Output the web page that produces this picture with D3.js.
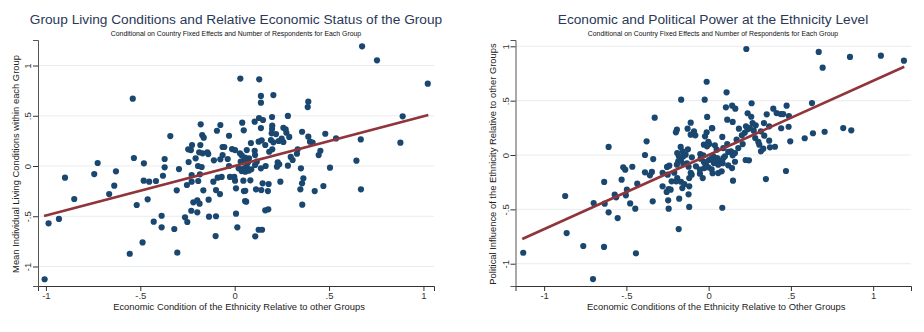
<!DOCTYPE html>
<html>
<head>
<meta charset="utf-8">
<title>Ethnicity scatter plots</title>
<style>
  body { margin: 0; background: #fff; }
  svg { display: block; font-family: "Liberation Sans", Arial, sans-serif; }
</style>
<script src="https://d3js.org/d3.v7.min.js"></script>
</head>
<body>
<svg id="chart" width="924" height="332"></svg>
<script>
// left panel: living conditions vs relative economic condition
var leftPoints = [
  [0.03,0.87],[-0.54,0.67],[-0.18,0.415],[-0.076,0.408],[0.04,0.431],[-0.172,0.308],[-0.164,0.282],[-0.341,0.298],
  [-0.094,0.351],[-0.03,0.301],[0.048,0.355],[-0.226,0.209],[-0.232,0.159],[-0.246,0.166],[-0.182,0.209],[-0.188,0.136],
  [-0.17,0.126],[-0.145,0.136],[-0.14,0.119],[-0.064,0.189],[-0.055,0.189],[-0.014,0.169],[0.002,0.159],[0.028,0.126],
  [0.037,0.106],[-0.064,0.109],[-0.076,0.067],[-0.037,0.07],[-0.207,0.077],[-0.244,0.04],[-0.11,0.057],[-0.194,0.0],
  [-0.175,-0.01],[-0.03,0.0],[0.021,-0.023],[0.037,-0.05],[0.051,0.06],[-0.295,-0.03],[-0.371,0.07],[-0.371,-0.013],
  [-0.481,0.027],[-0.534,0.08],[-0.726,0.03],[-0.744,-0.08],[-0.629,-0.053],[-0.899,-0.116],[-0.38,-0.097],[-0.228,-0.09],
  [-0.184,-0.083],[-0.228,-0.156],[-0.193,-0.149],[-0.113,-0.156],[-0.09,-0.116],[-0.069,-0.109],[-0.025,-0.109],[-0.002,-0.109],
  [0.002,-0.146],[-0.253,-0.189],[-0.482,-0.146],[-0.453,-0.156],[-0.417,-0.149],[-0.638,-0.196],[-0.665,-0.279],[-0.85,-0.328],
  [-0.307,-0.242],[-0.166,-0.242],[-0.078,-0.279],[-0.099,-0.239],[0.007,-0.222],[0.049,-0.249],[-0.461,-0.331],[-0.519,-0.388],
  [-0.219,-0.361],[-0.198,-0.341],[-0.186,-0.375],[-0.138,-0.335],[0.055,-0.348],[-0.23,-0.445],[-0.198,-0.461],[-0.387,-0.495],
  [-0.263,-0.511],[-0.251,-0.557],[-0.429,-0.554],[-0.387,-0.61],[-0.32,-0.627],[-0.136,-0.504],[-0.099,-0.5],[0.007,-0.474],
  [0.014,-0.61],[-0.101,-0.697],[-0.488,-0.76],[-0.556,-0.873],[-0.304,-0.862],[-0.986,-0.57],[-0.931,-0.527],[-1.007,-1.127],
  [0.675,1.191],[0.754,1.052],[1.023,0.819],[0.89,0.494],[0.878,0.232],[0.668,0.265],[0.645,0.053],[0.669,-0.232],
  [0.537,0.275],[0.48,0.321],[0.505,-0.017],[0.47,-0.199],[0.424,-0.249],[0.358,-0.385],[0.351,-0.023],[0.364,-0.122],
  [0.357,-0.172],[0.348,-0.232],[0.445,0.109],[0.454,0.152],[0.39,0.64],[0.387,0.587],[0.357,0.341],[0.39,0.292],
  [0.399,0.242],[0.413,0.232],[0.334,0.166],[0.33,0.122],[0.297,0.09],[0.307,0.06],[0.282,0.003],[0.242,-0.156],
  [0.282,0.498],[0.205,0.706],[0.139,0.697],[0.139,0.63],[0.13,0.863],[0.198,0.488],[0.129,0.478],[0.15,0.458],
  [0.106,0.441],[0.139,0.378],[0.199,0.401],[0.198,0.368],[0.258,0.381],[0.27,0.365],[0.196,0.325],[0.219,0.318],
  [0.274,0.331],[0.289,0.289],[0.086,0.229],[0.127,0.242],[0.143,0.256],[0.192,0.259],[0.205,0.236],[0.233,0.249],
  [0.258,0.239],[0.249,0.272],[0.064,0.159],[0.106,0.152],[0.108,0.109],[0.199,0.166],[0.183,0.142],[0.076,0.077],
  [0.055,0.083],[0.064,-0.007],[0.049,-0.023],[0.108,0.01],[0.139,-0.023],[0.164,0.0],[0.056,-0.057],[0.074,-0.047],
  [0.046,-0.146],[0.083,-0.142],[0.056,-0.246],[0.113,-0.232],[0.148,-0.172],[0.141,-0.239],[0.176,-0.249],[0.18,-0.179],
  [0.061,-0.355],[0.162,-0.441],[0.178,-0.431],[0.127,-0.634],[0.145,-0.634],[0.109,-0.7],[0.228,0.037],[0.236,0.017],
  [0.224,-0.007],[0.162,0.209],[0.071,0.037],[0.088,-0.033],[0.032,0.043],[0.117,0.043]
];
var leftFit = [[-1.01, -0.497], [1.026, 0.507]];

// right panel: political influence vs relative economic condition
var rightPoints = [
  [-0.012,0.674],[-0.167,0.509],[-0.024,0.509],[-0.328,0.343],[-0.009,0.35],[-0.109,0.297],[0.022,0.246],[-0.193,0.233],
  [-0.199,0.209],[-0.128,0.242],[-0.089,0.218],[-0.109,0.187],[-0.081,0.181],[-0.012,0.209],[-0.022,0.172],[-0.002,0.12],
  [-0.029,0.095],[-0.01,0.08],[0.004,0.101],[-0.377,0.126],[-0.608,0.074],[-0.17,0.074],[-0.158,0.034],[-0.126,0.052],
  [-0.191,0.018],[-0.181,-0.012],[-0.154,-0.012],[-0.14,0.003],[-0.168,-0.043],[-0.185,-0.058],[-0.193,-0.089],[-0.154,-0.083],
  [-0.102,-0.021],[-0.132,-0.076],[-0.122,-0.108],[-0.051,0.009],[-0.033,-0.003],[-0.049,-0.034],[-0.029,-0.064],[-0.016,-0.089],
  [0.002,-0.046],[0.018,-0.034],[-0.027,-0.12],[-0.002,-0.113],[0.018,-0.132],[0.032,-0.074],[-0.387,0.0],[-0.337,-0.037],
  [-0.519,-0.113],[-0.507,-0.135],[-0.464,-0.108],[-0.387,-0.159],[-0.345,-0.156],[-0.357,-0.187],[-0.529,-0.227],[-0.434,-0.264],
  [-0.28,-0.163],[-0.253,-0.11],[-0.239,-0.098],[-0.249,-0.181],[-0.225,-0.242],[-0.209,-0.163],[-0.197,-0.242],[-0.191,-0.212],
  [-0.28,-0.288],[-0.243,-0.313],[-0.255,-0.34],[-0.231,-0.319],[-0.168,-0.246],[-0.148,-0.267],[-0.16,-0.304],[-0.118,-0.288],
  [-0.118,-0.212],[-0.103,-0.181],[-0.109,-0.163],[-0.077,-0.104],[-0.053,-0.172],[-0.036,-0.212],[-0.053,-0.135],[-0.122,-0.362],
  [-0.497,-0.319],[-0.503,-0.371],[-0.571,-0.365],[-0.562,-0.389],[-0.34,-0.426],[-0.246,-0.417],[-0.179,-0.402],[-0.477,-0.445],
  [-0.446,-0.494],[-0.243,-0.494],[-0.118,-0.478],[-0.635,-0.248],[-0.699,-0.442],[-0.632,-0.448],[-0.608,-0.527],[-0.553,-0.58],
  [-0.872,-0.377],[-0.863,-0.718],[-0.762,-0.837],[-0.636,-0.846],[-1.127,-0.899],[-0.703,-1.141],[-0.442,-0.905],[-0.182,-0.681],
  [0.229,0.975],[0.669,0.948],[0.859,0.902],[1.047,0.914],[1.187,0.868],[0.693,0.803],[0.109,0.577],[0.261,0.476],
  [0.628,0.478],[0.474,0.454],[0.105,0.439],[0.143,0.454],[0.162,0.426],[0.393,0.426],[0.413,0.386],[0.438,0.377],
  [0.453,0.377],[0.488,0.359],[0.237,0.384],[0.259,0.352],[0.353,0.374],[0.113,0.325],[0.146,0.304],[0.02,0.248],
  [0.184,0.242],[0.227,0.264],[0.237,0.236],[0.251,0.248],[0.267,0.294],[0.286,0.273],[0.274,0.224],[0.219,0.205],
  [0.202,0.181],[0.336,0.294],[0.368,0.264],[0.318,0.218],[0.338,0.178],[0.441,0.246],[0.486,0.26],[0.496,0.126],
  [0.584,0.154],[0.634,0.2],[0.705,0.214],[0.818,0.248],[0.867,0.227],[0.083,0.166],[0.283,0.156],[0.302,0.12],
  [0.308,0.095],[0.368,0.132],[0.373,0.071],[0.403,0.076],[0.318,0.034],[0.332,0.058],[0.17,0.141],[0.207,0.101],
  [0.18,0.064],[0.16,0.018],[0.136,0.034],[0.146,-0.003],[0.038,0.089],[0.049,0.049],[0.089,0.064],[0.113,0.101],
  [0.119,0.028],[0.028,-0.012],[0.052,-0.028],[0.069,-0.058],[0.089,-0.028],[0.085,-0.076],[0.099,-0.012],[0.058,-0.089],
  [0.032,-0.064],[0.119,-0.095],[0.16,-0.062],[0.142,-0.12],[0.225,-0.046],[0.245,-0.049],[0.024,-0.168],[0.058,-0.166],
  [0.079,-0.15],[0.148,-0.236],[0.348,-0.221],[0.47,-0.147],[0.083,-0.485]
];
var rightFit = [[-1.133, -0.773], [1.189, 0.812]];

var tickValues = [-1, -0.5, 0, 0.5, 1];

var svg = d3.select("#chart");

// stata style labels: ".5", "-.5"
function fmt(d) {
  if (d === 0) return "0";
  return String(d).replace("0.", ".");
}

function drawPanel(cfg) {
  var x = d3.scaleLinear().domain(cfg.xDomain).range([cfg.left, cfg.right]);
  var y = d3.scaleLinear().domain(cfg.yDomain).range([cfg.bottom, cfg.top]);
  var g = svg.append("g");

  // grid
  g.selectAll(".grid").data(tickValues).enter().append("line")
    .attr("x1", cfg.left).attr("x2", cfg.right)
    .attr("y1", d => y(d)).attr("y2", d => y(d))
    .attr("stroke", "#e9ecef").attr("stroke-width", 1);

  // axes
  var xAxis = d3.axisBottom(x).tickValues(tickValues).tickSize(5).tickFormat(fmt);
  var gx = g.append("g").attr("transform", "translate(0," + cfg.bottom + ")").call(xAxis);
  gx.select(".domain").attr("stroke", "#333");
  gx.selectAll(".tick line").attr("stroke", "#333");
  gx.selectAll(".tick text").attr("font-size", 9.5).attr("fill", "#333").attr("dy", "0.5em");

  var yAxis = d3.axisLeft(y).tickValues(tickValues).tickSize(5).tickFormat(fmt);
  var gy = g.append("g").attr("transform", "translate(" + cfg.left + ",0)").call(yAxis);
  gy.select(".domain").attr("stroke", "#555");
  gy.selectAll(".tick line").attr("stroke", "#333");
  gy.selectAll(".tick text")
    .attr("font-size", 9.5).attr("fill", "#333")
    .attr("x", -7).attr("dy", 0)
    .attr("text-anchor", "middle")
    .attr("transform", "rotate(-90," + (-7) + ",0)");

  // dots
  g.selectAll(".dot").data(cfg.points).enter().append("circle")
    .attr("cx", d => x(d[0])).attr("cy", d => y(d[1]))
    .attr("r", 3.1).attr("fill", "#1a476f");

  // fitted line
  var line = d3.line().x(d => x(d[0])).y(d => y(d[1]));
  g.append("path").datum(cfg.fit)
    .attr("d", line).attr("fill", "none")
    .attr("stroke", "#90353b").attr("stroke-width", 2.6);

  // titles
  var cx = (cfg.left + cfg.right) / 2;
  g.append("text").attr("x", cfg.titleX).attr("y", 24)
    .attr("text-anchor", "middle").attr("font-size", 13.7).attr("fill", "#2a3858")
    .text(cfg.title);
  g.append("text").attr("x", cfg.titleX).attr("y", 35.5)
    .attr("text-anchor", "middle").attr("font-size", 6.9).attr("fill", "#111")
    .text("Conditional on Country Fixed Effects and Number of Respondents for Each Group");
  g.append("text").attr("x", cx + 3).attr("y", 310)
    .attr("text-anchor", "middle").attr("font-size", 9.4).attr("fill", "#222")
    .text(cfg.xTitle);
  g.append("text")
    .attr("transform", "translate(" + cfg.yTitleX + "," + ((cfg.top + cfg.bottom) / 2 + 1) + ") rotate(-90)")
    .attr("text-anchor", "middle").attr("font-size", 9.4).attr("fill", "#222")
    .text(cfg.yTitle);
}

drawPanel({
  points: leftPoints, fit: leftFit,
  xDomain: [-1.042, 1.056], yDomain: [-1.194, 1.254],
  left: 38, right: 434, top: 40, bottom: 286,
  titleX: 236, yTitleX: 19,
  title: "Group Living Conditions and Relative Economic Status of the Group",
  xTitle: "Economic Condition of the Ethnicity Relative to other Groups",
  yTitle: "Mean Individual Living Conditions within each Group"
});

drawPanel({
  points: rightPoints, fit: rightFit,
  xDomain: [-1.174, 1.23], yDomain: [-1.205, 1.058],
  left: 515.5, right: 911, top: 40, bottom: 286,
  titleX: 713, yTitleX: 495.5,
  title: "Economic and Political Power at the Ethnicity Level",
  xTitle: "Economic Conditions of the Ethnicity Relative to Other Groups",
  yTitle: "Political Influence of the Ethnicity Relative to other Groups"
});
</script>
</body>
</html>
